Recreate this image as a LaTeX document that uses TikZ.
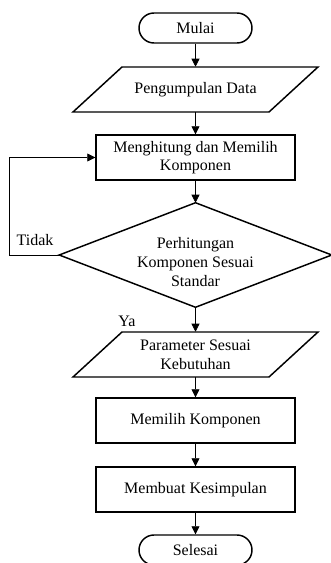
\documentclass[tikz,border=0pt]{standalone}
\usepackage{fontspec}
\setmainfont{Liberation Serif}
\newfontfamily\timesfont{Liberation Serif}
\usetikzlibrary{arrows.meta,calc}
\begin{document}
\begin{tikzpicture}[x=0.75pt,y=-0.75pt,
  every node/.style={font=\timesfont\fontsize{12}{14}\selectfont},
  outline/.style={draw,line width=1.1pt},
  term/.style={outline,rounded corners=11.25pt,minimum width=84.75pt,minimum height=22.5pt,inner sep=0pt},
  proc/.style={outline,minimum width=149.25pt,minimum height=33.75pt,align=center,inner sep=0pt},
  iobox/.style={minimum width=110.25pt,minimum height=33.75pt,align=center,inner sep=0pt},
  decbox/.style={minimum width=204pt,minimum height=78pt,inner sep=0pt},
  arr/.style={line width=0.6pt,-{Triangle[length=6pt,width=6pt]}},
  lbl/.style={inner sep=0pt}]
\useasboundingbox (0,0) rectangle (330,563);

\node[term] (t1) at (195.5,28) {Mulai};
\node[iobox] (p1) at (195.5,89.5) {Pengumpulan Data};
\draw[outline] ($(p1.center)+(-73.5,-22.5)$) -- ($(p1.center)+(122.5,-22.5)$)
  -- ($(p1.center)+(73.5,22.5)$) -- ($(p1.center)+(-122.5,22.5)$) -- cycle;
\node[proc] (b1) at (195.5,157.5) {Menghitung dan Memilih\\Komponen};
\node[decbox] (d) at (195.5,255) {};
\draw[outline] (d.north) -- (d.east) -- (d.south) -- (d.west) -- cycle;
\node[align=center,inner sep=0pt] (dt) at (195.5,262) {Perhitungan\\Komponen Sesuai\\Standar};
\node[iobox] (p2) at (195.5,354.5) {Parameter Sesuai\\Kebutuhan};
\draw[outline] ($(p2.center)+(-73.5,-22.5)$) -- ($(p2.center)+(122.5,-22.5)$)
  -- ($(p2.center)+(73.5,22.5)$) -- ($(p2.center)+(-122.5,22.5)$) -- cycle;
\node[proc] (b2) at (195.5,420.5) {Memilih Komponen};
\node[proc] (b3) at (195.5,489.5) {Membuat Kesimpulan};
\node[term] (t2) at (195.5,550) {Selesai};

\node[lbl] (tidak) at (35,240) {Tidak};
\node[lbl] (ya) at (127,321) {Ya};
\coordinate (fb) at (9.5,0);

\draw[arr] (t1.south) -- (p1.north);
\draw[arr] (p1.south) -- (b1.north);
\draw[arr] (b1.south) -- (d.north);
\draw[arr] (d.south) -- (p2.north);
\draw[arr] (p2.south) -- (b2.north);
\draw[arr] (b2.south) -- (b3.north);
\draw[arr] (b3.south) -- (t2.north);
\draw[arr] (d.west) -- (d.west -| fb) |- (b1.west);
\end{tikzpicture}
\end{document}
